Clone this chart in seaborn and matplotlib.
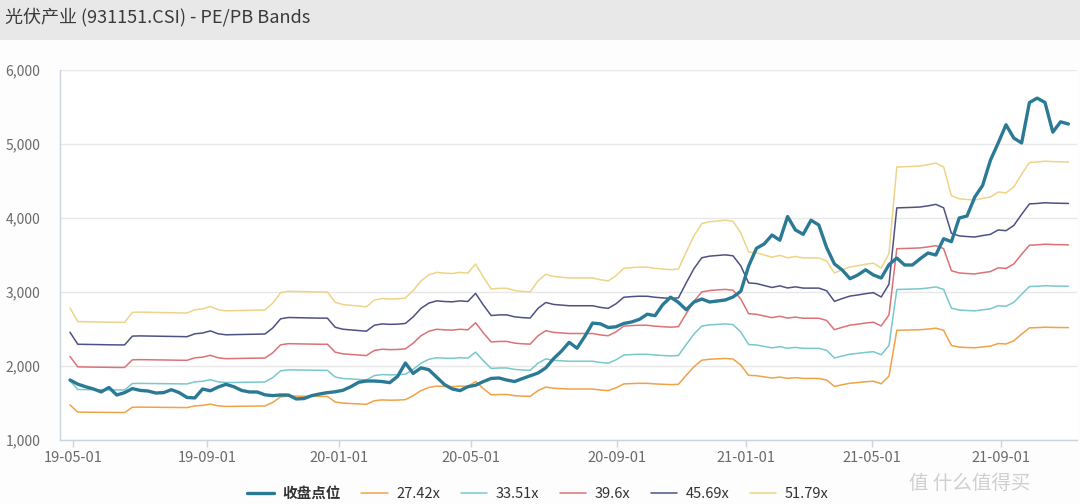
import numpy as np
import pandas as pd
import seaborn as sns
import matplotlib.pyplot as plt
from matplotlib.patches import Rectangle
from matplotlib.ticker import FuncFormatter

# x labels shown on the axis
tick_labels = ['19-05-01', '19-09-01', '20-01-01', '20-05-01',
               '20-09-01', '21-01-01', '21-05-01', '21-09-01']

# PE multiples for the bands
multiples = [27.42, 33.51, 39.6, 45.69, 51.79]
band_names = ['27.42x', '33.51x', '39.6x', '45.69x', '51.79x']

# index close (weekly points)
close = [1811, 1755, 1720, 1690, 1650, 1710, 1608, 1640, 1695, 1670,
         1662, 1635, 1640, 1680, 1640, 1575, 1568, 1689, 1665, 1716,
         1752, 1720, 1670, 1649, 1649, 1610, 1600, 1608, 1608, 1555,
         1560, 1600, 1622, 1640, 1652, 1672, 1720, 1780, 1797, 1797,
         1790, 1775, 1860, 2040, 1900, 1975, 1950, 1851, 1750, 1690,
         1667, 1720, 1740, 1790, 1832, 1838, 1810, 1790, 1830, 1868,
         1905, 1975, 2100, 2200, 2320, 2240, 2400, 2580, 2570, 2520,
         2530, 2575, 2595, 2630, 2700, 2680, 2830, 2930, 2860, 2760,
         2865, 2905, 2865, 2878, 2892, 2932, 3010, 3350, 3590, 3650,
         3770, 3700, 4020, 3838, 3780, 3970, 3905, 3600, 3380, 3297,
         3180, 3230, 3300, 3230, 3189, 3370, 3459, 3365, 3365, 3450,
         3527, 3500, 3720, 3680, 4000, 4027, 4284, 4440, 4780, 5014,
         5260, 5080, 5014, 5560, 5620, 5560, 5160, 5300, 5270]

# the 51.79x band as read; the other bands scale with the same earnings
top_band = [2784, 2600, 2598, 2596, 2594, 2592, 2590, 2590, 2725, 2728,
            2726, 2724, 2722, 2720, 2718, 2716, 2760, 2772, 2805, 2760,
            2745, 2748, 2750, 2752, 2755, 2757, 2850, 2990, 3010, 3008,
            3005, 3002, 3000, 3000, 2860, 2830, 2820, 2810, 2800, 2890,
            2912, 2905, 2908, 2919, 3020, 3150, 3230, 3265, 3255, 3250,
            3265, 3255, 3380, 3200, 3040, 3050, 3050, 3020, 3008, 3002,
            3150, 3240, 3210, 3200, 3190, 3190, 3190, 3190, 3165, 3150,
            3220, 3320, 3330, 3336, 3335, 3320, 3310, 3302, 3310, 3540,
            3760, 3925, 3950, 3960, 3970, 3955, 3800, 3540, 3530, 3500,
            3470, 3495, 3462, 3480, 3460, 3460, 3460, 3420, 3257, 3300,
            3338, 3355, 3375, 3390, 3324, 3520, 4689, 4693, 4697, 4703,
            4720, 4743, 4690, 4300, 4260, 4250, 4243, 4265, 4284, 4351,
            4340, 4420, 4590, 4750, 4757, 4768, 4762, 4760, 4757]

eps = np.array(top_band) / multiples[-1]
df = pd.DataFrame({'idx': np.arange(len(close)), '收盘点位': close})
for name, m in zip(band_names, multiples):
    df[name] = eps * m
bands = df.melt(id_vars='idx', value_vars=band_names,
                var_name='series', value_name='value')

close_color = '#2b7a95'
band_colors = ['#f0a247', '#78c8cc', '#dc7276', '#4f5183', '#eed488']

sns.set_style('white')
plt.rcParams['font.family'] = ['Noto Sans CJK SC', 'DejaVu Sans']

W, H = 1080, 504
fig = plt.figure(figsize=(W / 100, H / 100), dpi=100)
fig.patch.set_facecolor('#fdfdfd')
fig.patches.append(Rectangle((0, 1 - 40 / H), 1, 40 / H, transform=fig.transFigure,
                             facecolor='#e8e8e8', edgecolor='none', zorder=0))
fig.text(5 / W, 1 - 17 / H, '光伏产业 (931151.CSI) - PE/PB Bands', fontsize=13,
         color='#3a3a3a', va='center', ha='left')

ax = fig.add_axes([60 / W, (H - 440) / H, (1077 - 60) / W, (440 - 70) / H])
ax.set_facecolor('white')

sns.lineplot(data=bands, x='idx', y='value', hue='series', hue_order=band_names,
             palette=band_colors, linewidth=1.1, ax=ax, legend=False)
sns.lineplot(data=df, x='idx', y='收盘点位', color=close_color, linewidth=2.4,
             ax=ax, legend=False, zorder=5)

ax.set_xlim(-1.28, 129.1)
ax.set_ylim(1000, 6000)
ax.set_yticks(range(1000, 6001, 1000))
ax.yaxis.set_major_formatter(FuncFormatter(lambda v, p: f'{int(v):,}'))
ax.set_xticks([0.38, 17.6, 34.5, 51.4, 70.1, 86.7, 102.8, 119.4])
ax.set_xticklabels(tick_labels)
ax.set_xlabel('')
ax.set_ylabel('')
ax.yaxis.grid(True, color='#e8e8e8', linewidth=1)
ax.xaxis.grid(False)
for s in ['top', 'right']:
    ax.spines[s].set_visible(False)
for s in ['left', 'bottom']:
    ax.spines[s].set_color('#ccd3e0')
    ax.spines[s].set_linewidth(1)
ax.tick_params(axis='y', length=0, pad=14, labelsize=10, labelcolor='#6a6a6a')
ax.tick_params(axis='x', length=5, width=1, color='#ccd3e0', pad=3,
               labelsize=10.5, labelcolor='#6a6a6a', bottom=True)

lines = ax.get_lines()
handles = [lines[5]] + lines[:5]
leg = fig.legend(handles=handles, labels=['收盘点位'] + band_names, ncol=6,
                 loc='center', bbox_to_anchor=(538 / W, 1 - 493 / H), frameon=False,
                 fontsize=10.5, handlelength=1.8, handletextpad=0.6, columnspacing=1.4)
for t in leg.get_texts():
    t.set_color('#333333')
leg.get_texts()[0].set_fontweight('bold')

fig.text(1030 / W, 1 - 483 / H, '值 什么值得买', fontsize=14, color='#cfcfcf',
         ha='right', va='center')

fig.savefig('out.png', dpi=100, facecolor=fig.get_facecolor())
